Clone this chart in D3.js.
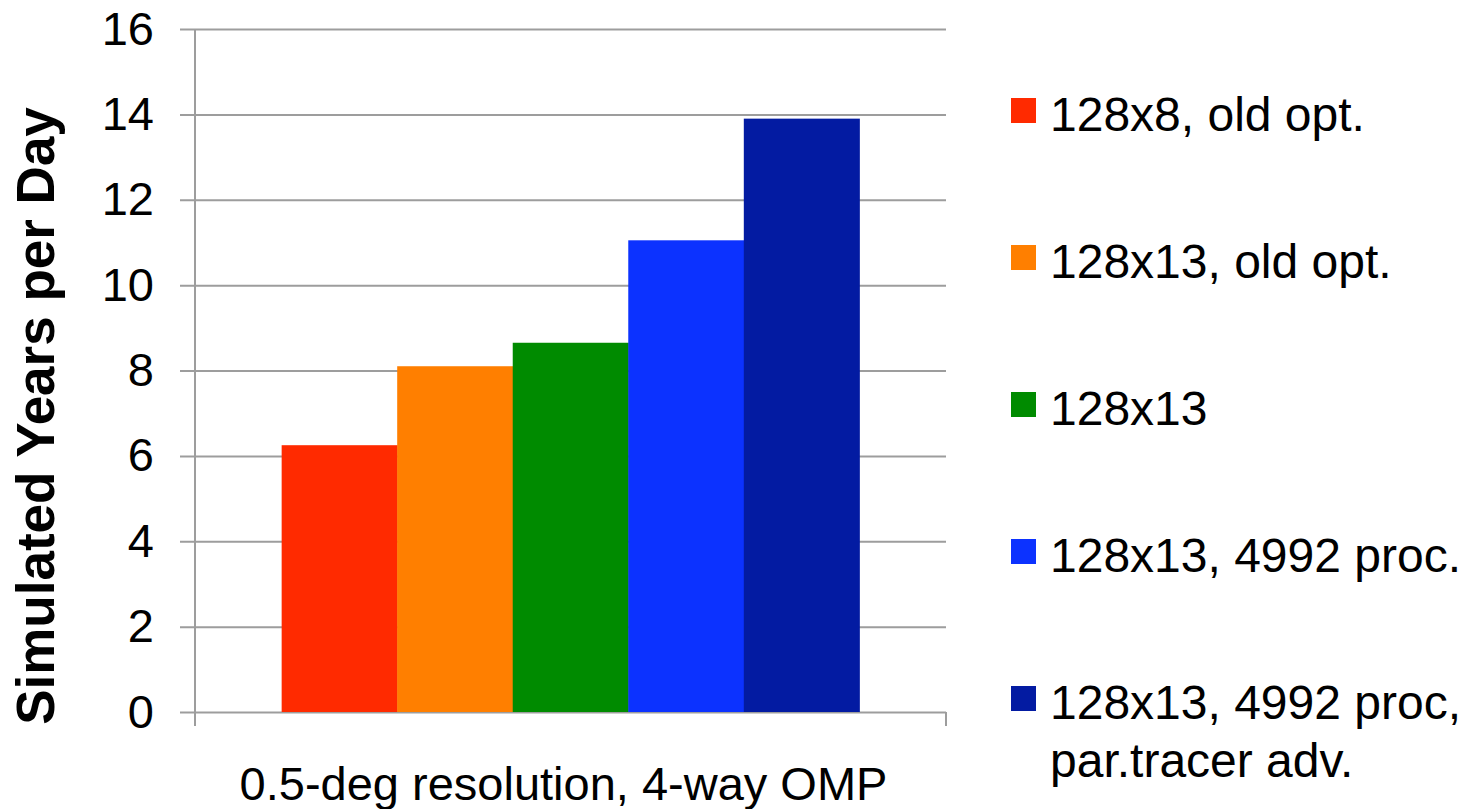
<!DOCTYPE html>
<html>
<head>
<meta charset="utf-8">
<script src="https://cdn.jsdelivr.net/npm/d3@7"></script>
<style>
  html, body { margin: 0; padding: 0; background: #ffffff; }
  svg { display: block; font-family: "Liberation Sans", Arial, sans-serif; }
</style>
</head>
<body>
<svg id="chart" width="1462" height="809"></svg>
<script>
// Single category with five configurations
const categories = ["0.5-deg resolution, 4-way OMP"];
const seriesNames = [
  "128x8, old opt.",
  "128x13, old opt.",
  "128x13",
  "128x13, 4992 proc.",
  "128x13, 4992 proc,\npar.tracer adv."
];
const seriesValues = [6.25, 8.1, 8.65, 11.05, 13.9];
const seriesColors = ["#ff2a00", "#ff7f00", "#008b00", "#0c32ff", "#031ba2"];
const yTicks = [0, 2, 4, 6, 8, 10, 12, 14, 16];
const yTitle = "Simulated Years per Day";

const svg = d3.select("#chart");
const plot = { left: 195, right: 946, top: 29, bottom: 712 };

const y = d3.scaleLinear().domain([0, 16]).range([plot.bottom, plot.top]);
const x0 = d3.scaleBand().domain(categories).range([plot.left, plot.right])
  .paddingInner(0).paddingOuter(0.15);
const x1 = d3.scaleBand().domain(seriesNames).range([0, x0.bandwidth()]).padding(0);

const gridColor = "#9d9d9d";

// Horizontal gridlines with left tick marks
const yAxis = d3.axisLeft(y).tickValues(yTicks).tickSize(plot.right - plot.left + 15)
  .tickPadding(26).tickFormat(d3.format("d"));
const gy = svg.append("g").attr("transform", `translate(${plot.right},0)`).call(yAxis);
gy.select(".domain").remove();
gy.selectAll(".tick line").attr("stroke", gridColor).attr("stroke-width", 2);
gy.selectAll(".tick text")
  .attr("font-size", 47).attr("fill", "#000")
  .attr("font-family", "'Liberation Sans', Arial, sans-serif");

// Bars
const gBars = svg.append("g");
categories.forEach(cat => {
  gBars.selectAll("rect.bar")
    .data(seriesNames.map((s, i) => ({ s, v: seriesValues[i], c: seriesColors[i] })))
    .enter().append("rect")
    .attr("class", "bar")
    .attr("x", d => x0(cat) + x1(d.s))
    .attr("width", x1.bandwidth() + 0.5)
    .attr("y", d => y(d.v))
    .attr("height", d => y(0) - y(d.v))
    .attr("fill", d => d.c);
});

// Vertical axis line and category boundary ticks
svg.append("line")
  .attr("x1", plot.left).attr("x2", plot.left)
  .attr("y1", plot.top).attr("y2", plot.bottom + 14)
  .attr("stroke", gridColor).attr("stroke-width", 2);
svg.append("line")
  .attr("x1", plot.right).attr("x2", plot.right)
  .attr("y1", plot.bottom).attr("y2", plot.bottom + 14)
  .attr("stroke", gridColor).attr("stroke-width", 2);

// Category label
svg.append("text")
  .attr("x", (plot.left + plot.right) / 2 - 7)
  .attr("y", 800)
  .attr("text-anchor", "middle")
  .attr("font-size", 47)
  .attr("fill", "#000")
  .text(categories[0]);

// Y axis title
svg.append("text")
  .attr("transform", `translate(54, ${(727 + 105) / 2}) rotate(-90)`)
  .attr("text-anchor", "middle")
  .attr("font-size", 53)
  .attr("font-weight", "bold")
  .attr("fill", "#000")
  .text(yTitle);

// Legend
const legend = svg.append("g").attr("transform", "translate(1011, 98)");
seriesNames.forEach((name, i) => {
  const g = legend.append("g").attr("transform", `translate(0, ${i * 147})`);
  g.append("rect").attr("width", 25).attr("height", 25).attr("fill", seriesColors[i]);
  const t = g.append("text").attr("x", 39).attr("y", 33)
    .attr("font-size", 48).attr("fill", "#000");
  name.split("\n").forEach((line, j) => {
    t.append("tspan").attr("x", 39).attr("y", 33 + j * 58).text(line);
  });
});
</script>
</body>
</html>
